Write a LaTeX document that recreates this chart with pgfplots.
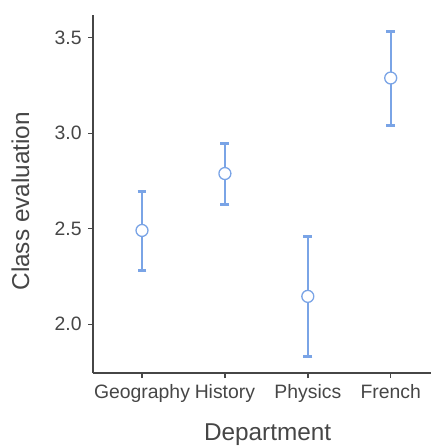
\documentclass[border=0pt]{standalone}
\usepackage{pgfplots}
\pgfplotsset{compat=1.18}
\usepackage{fontspec}
\setmainfont{Liberation Sans}
\definecolor{barblue}{RGB}{122,164,230}
\definecolor{axgray}{RGB}{70,70,70}
\definecolor{txtgray}{RGB}{70,70,70}
\pgfplotstableread{
x y ep em
0 2.491 0.205 0.209
1 2.789 0.157 0.160
2 2.146 0.312 0.317
3 3.289 0.242 0.249
}\datatab
\begin{document}
\begin{tikzpicture}
\begin{axis}[
  name=ax,
  scale only axis,
  width=339bp, height=359bp,
  xmin=-0.59, xmax=3.49,
  ymin=1.744, ymax=3.619,
  axis x line*=bottom, axis y line*=left,
  axis line style={axgray, line width=1.6bp, -},
  xtick={0,1,2,3},
  xticklabels={Geography,History,Physics,French},
  ytick={2.0,2.5,3.0,3.5},
  yticklabel style={/pgf/number format/fixed, /pgf/number format/fixed zerofill, /pgf/number format/precision=1, xshift=-3bp},
  /pgf/number format/assume math mode=true,
  tick align=outside,
  major tick length=5bp,
  tick style={axgray, line width=1.4bp},
  ticklabel style={font=\fontsize{19.5}{22}\selectfont, text=txtgray},
  xticklabel style={yshift=-3bp},
  ylabel={Class evaluation},
  xlabel={Department},
  label style={font=\fontsize{24.5}{28}\selectfont, text=txtgray},
  ylabel style={at={(axis description cs:-0.215,0.48)}, anchor=center},
  xlabel style={at={(axis description cs:0.516,-0.172)}, anchor=center},
  clip=false,
]
\addplot[only marks, color=barblue, line width=2.2bp, mark=*, mark size=0.01bp,
  mark options={draw=barblue, line width=2.2bp},
  error bars/.cd, y dir=both, y explicit,
  error bar style={barblue, line width=2.2bp},
  error mark options={barblue, line width=3bp, mark size=4.5bp, rotate=90}]
  table[x=x, y=y, y error plus=ep, y error minus=em] {\datatab};
\addplot[only marks, mark=*, mark size=6bp,
  mark options={fill=white, draw=barblue, line width=1.3bp}]
  table[x=x, y=y] {\datatab};
\end{axis}
\pgfresetboundingbox
\path ([shift={(-93.3bp,-75bp)}]ax.south west) rectangle ([shift={(0bp,15bp)}]ax.north east);
\end{tikzpicture}
\end{document}
